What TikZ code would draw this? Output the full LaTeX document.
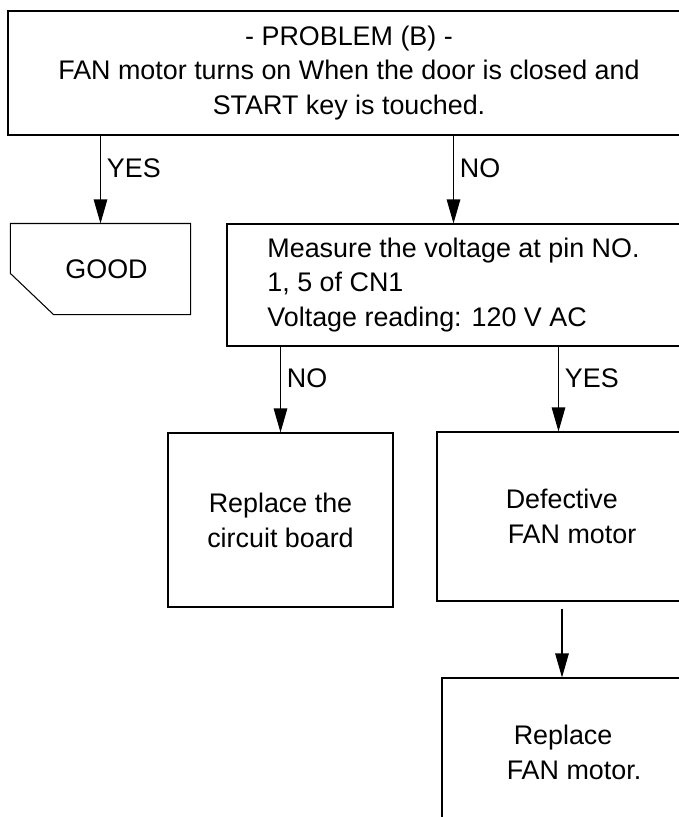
\documentclass[tikz,border=0pt]{standalone}
\usepackage{fontspec}
\setmainfont{Liberation Sans}
\usetikzlibrary{arrows.meta}

\begin{document}
\begin{tikzpicture}[
			>={Triangle[length=0.48cm,width=0.27cm]},
			line width=0.6pt,
			every node/.style={font=\fontsize{15.3}{19.8}\selectfont},
			box/.style={draw, rectangle, inner sep=0pt, align=center},
			lbl/.style={right, pos=0.37}
		]
			\useasboundingbox (0,0) rectangle (13.56,-16.34);

			% 问题与第一次判断
			\node[box, minimum width=13.64cm, minimum height=2.48cm] (problem) at (6.98,-1.46)
				{- PROBLEM (B) -\\FAN motor turns on When the door is closed and\\START key is touched.};
			\node[minimum width=3.58cm, minimum height=1.8cm, inner sep=0pt] (good) at (2.01,-5.38) {\hspace*{0.24cm}GOOD};
			\draw (good.north west) -- (good.north east) -- (good.south east)
				-- ([xshift=0.86cm]good.south west) -- ([yshift=0.82cm]good.south west) -- cycle;
			\node[box, minimum width=9.06cm, minimum height=2.44cm, align=left] (measure) at (9.07,-5.70)
				{Measure the voltage at pin NO.\\1, 5 of CN1\\Voltage reading: 120 V AC};

			% 测量之后
			\node[box, minimum width=4.5cm, minimum height=3.48cm] (board) at (5.61,-10.40) {Replace the\\circuit board};
			\node[box, minimum width=4.86cm, minimum height=3.38cm, align=left] (defect) at (11.17,-10.33)
				{\hspace*{0.5cm}Defective\\\hspace*{0.54cm}FAN motor};
			\node[box, minimum width=4.8cm, minimum height=2.96cm, align=left] (replfan) at (11.24,-15.04)
				{\hspace*{0.62cm}Replace\\\hspace*{0.48cm}FAN motor.};

			\path[->]
				(problem.south -| good.north) edge node[lbl] {YES} (good.north)
				(problem.south -| measure.north) edge node[lbl] {NO} (measure.north)
				(measure.south -| board.north) edge node[lbl] {NO} (board.north)
				(measure.south -| defect.north) edge node[lbl] {YES} (defect.north)
				(defect.south -| replfan.north) edge[shorten <=0.14cm] (replfan.north);
		\end{tikzpicture}
\end{document}
